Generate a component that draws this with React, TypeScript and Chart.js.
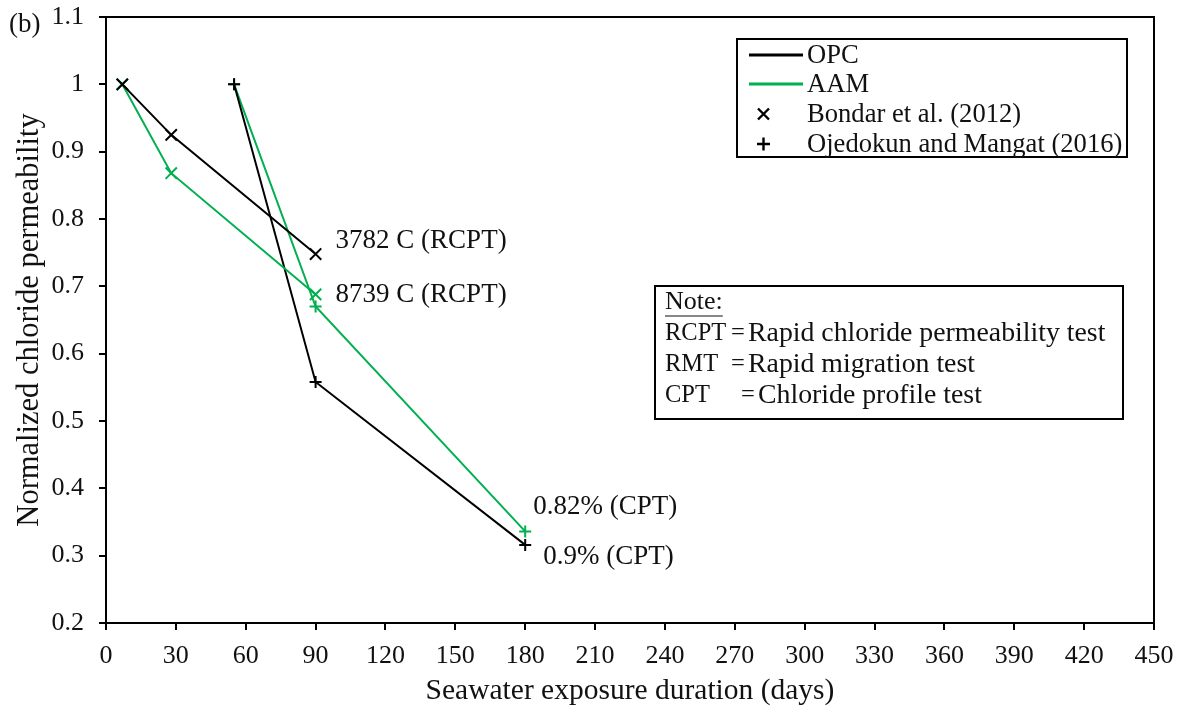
import React, { useEffect, useRef } from 'react';
import { Chart, registerables } from 'chart.js';

Chart.register(...registerables);

// ---------- data ----------
const opcBondarDays = [7, 28, 90];
const opcBondarValues = [1, 0.925, 0.748];
const aamBondarDays = [7, 28, 90];
const aamBondarValues = [1, 0.868, 0.688];
const opcOjedokunDays = [55, 90, 180];
const opcOjedokunValues = [1, 0.558, 0.316];
const aamOjedokunDays = [55, 90, 180];
const aamOjedokunValues = [1, 0.67, 0.336];

const xTickValues = [0, 30, 60, 90, 120, 150, 180, 210, 240, 270, 300, 330, 360, 390, 420, 450];
const yTickLabels = ['0.2', '0.3', '0.4', '0.5', '0.6', '0.7', '0.8', '0.9', '1', '1.1'];

const xAxisTitle = 'Seawater exposure duration (days)';
const yAxisTitle = 'Normalized chloride permeability';
const panelLabel = '(b)';

const legendLineLabels = ['OPC', 'AAM'];
const legendMarkerLabels = ['Bondar et al. (2012)', 'Ojedokun and Mangat (2016)'];

const noteTitle = 'Note:';
const noteAbbreviations = ['RCPT', 'RMT', 'CPT'];
const noteMeanings = ['Rapid chloride permeability test', 'Rapid migration test', 'Chloride profile test'];

const annotationTexts = ['3782 C (RCPT)', '8739 C (RCPT)', '0.82% (CPT)', '0.9% (CPT)'];
const annotationDays = [90, 90, 180, 180];
const annotationValues = [0.748, 0.688, 0.336, 0.316];

// ---------- styles ----------
const BLACK = '#000000';
const GREEN = '#00B050';
const TEXT = '#111111';
const FONT = "'Liberation Serif', 'Times New Roman', serif";
const annotationOffsets = [
  [20, -13],
  [20, 0],
  [8, -25],
  [18, 12],
];

const toPoints = (xs: number[], ys: number[]) => xs.map((x, i) => ({ x, y: ys[i] }));

const overlayPlugin = {
  id: 'overlay',
  afterDraw(chart: any) {
    const { ctx, chartArea } = chart;
    const xs = chart.scales.x;
    const ys = chart.scales.y;
    ctx.save();

    // frame top & right
    ctx.strokeStyle = BLACK;
    ctx.lineWidth = 2;
    ctx.beginPath();
    ctx.moveTo(chartArea.left, chartArea.top);
    ctx.lineTo(chartArea.right, chartArea.top);
    ctx.lineTo(chartArea.right, chartArea.bottom);
    ctx.stroke();

    ctx.fillStyle = TEXT;
    ctx.textBaseline = 'middle';
    ctx.textAlign = 'left';

    // panel label
    ctx.font = `27px ${FONT}`;
    ctx.fillText(panelLabel, 9, 25);

    // annotations
    annotationTexts.forEach((t, i) => {
      const px = xs.getPixelForValue(annotationDays[i]) + annotationOffsets[i][0];
      const py = ys.getPixelForValue(annotationValues[i]) + annotationOffsets[i][1];
      ctx.fillText(t, px, py);
    });

    // legend box
    ctx.fillStyle = '#fff';
    ctx.fillRect(737, 39, 390, 118);
    ctx.strokeStyle = BLACK;
    ctx.lineWidth = 2;
    ctx.strokeRect(737, 39, 390, 118);
    ctx.fillStyle = TEXT;
    ctx.font = `26.6px ${FONT}`;
    const rows = [55, 84, 114, 144];
    const colors = [BLACK, GREEN];
    legendLineLabels.forEach((l, i) => {
      ctx.strokeStyle = colors[i];
      ctx.lineWidth = 3;
      ctx.beginPath();
      ctx.moveTo(749, rows[i]);
      ctx.lineTo(803, rows[i]);
      ctx.stroke();
      ctx.fillText(l, 807, rows[i] + 1);
    });
    ctx.strokeStyle = BLACK;
    ctx.lineWidth = 2.4;
    // x marker
    ctx.beginPath();
    ctx.moveTo(758, rows[2] - 5.5);
    ctx.lineTo(769, rows[2] + 5.5);
    ctx.moveTo(769, rows[2] - 5.5);
    ctx.lineTo(758, rows[2] + 5.5);
    ctx.stroke();
    // + marker
    ctx.beginPath();
    ctx.moveTo(757, rows[3]);
    ctx.lineTo(770, rows[3]);
    ctx.moveTo(763.5, rows[3] - 6.5);
    ctx.lineTo(763.5, rows[3] + 6.5);
    ctx.stroke();
    legendMarkerLabels.forEach((l, i) => {
      ctx.fillText(l, 807, rows[i + 2] + 1);
    });

    // note box
    ctx.fillStyle = '#fff';
    ctx.fillRect(655, 286, 468, 133);
    ctx.strokeStyle = BLACK;
    ctx.lineWidth = 2;
    ctx.strokeRect(655, 286, 468, 133);
    ctx.fillStyle = TEXT;
    ctx.font = `26px ${FONT}`;
    ctx.fillText(noteTitle, 665, 302);
    const nw = ctx.measureText(noteTitle).width;
    ctx.lineWidth = 1.2;
    ctx.strokeStyle = TEXT;
    ctx.beginPath();
    ctx.moveTo(665, 316);
    ctx.lineTo(665 + nw, 316);
    ctx.stroke();
    const noteRows = [334, 365, 396];
    const eqX = [731, 731, 741];
    const textX = [748, 748, 758];
    noteAbbreviations.forEach((a, i) => {
      ctx.font = `24.5px ${FONT}`;
      ctx.fillText(a, 665, noteRows[i]);
      ctx.fillText('=', eqX[i], noteRows[i]);
      ctx.font = `27.8px ${FONT}`;
      ctx.fillText(noteMeanings[i], textX[i], noteRows[i]);
    });

    ctx.restore();
  },
};

export default function App() {
  const ref = useRef<HTMLCanvasElement | null>(null);
  useEffect(() => {
    document.body.style.margin = '0';
    document.body.style.background = '#fff';
    const canvas = ref.current;
    if (!canvas) return;
    const mk = (data: any, color: string, style: string, radius: number) => ({
      data,
      showLine: true,
      borderColor: color,
      backgroundColor: color,
      borderWidth: 2,
      pointStyle: style,
      pointRadius: radius,
      pointBorderWidth: 2,
      pointBorderColor: color,
      pointHoverRadius: radius,
      fill: false,
      tension: 0,
    });
    const chart = new Chart(canvas, {
      type: 'scatter',
      data: {
        datasets: [
          mk(toPoints(opcBondarDays, opcBondarValues), BLACK, 'crossRot', 8),
          mk(toPoints(aamBondarDays, aamBondarValues), GREEN, 'crossRot', 8),
          mk(toPoints(opcOjedokunDays, opcOjedokunValues), BLACK, 'cross', 6),
          mk(toPoints(aamOjedokunDays, aamOjedokunValues), GREEN, 'cross', 6),
        ] as any,
      },
      options: {
        responsive: false,
        animation: false,
        layout: { padding: { top: 17, right: 32, left: 0, bottom: 0 } },
        plugins: { legend: { display: false }, tooltip: { enabled: false } },
        scales: {
          x: {
            type: 'linear',
            min: 0,
            max: 450,
            afterBuildTicks: (s: any) => {
              s.ticks = xTickValues.map((v) => ({ value: v }));
            },
            afterFit: (s: any) => {
              s.height = 93;
              s.paddingLeft = 0;
              s.paddingRight = 0;
            },
            ticks: {
              color: TEXT,
              font: { family: FONT, size: 26 },
              padding: 11,
              maxRotation: 0,
              autoSkip: false,
            },
            grid: { display: true, drawOnChartArea: false, drawTicks: true, tickLength: 7, color: BLACK, lineWidth: 2 },
            border: { display: true, color: BLACK, width: 2 },
            title: {
              display: true,
              text: xAxisTitle,
              color: TEXT,
              font: { family: FONT, size: 29.5 },
              padding: { top: 0, bottom: 7 },
            },
          },
          y: {
            type: 'linear',
            min: 0.2,
            max: 1.1,
            afterBuildTicks: (s: any) => {
              s.ticks = yTickLabels.map((v) => ({ value: parseFloat(v) }));
            },
            afterFit: (s: any) => {
              s.width = 106;
              s.paddingTop = 0;
              s.paddingBottom = 0;
            },
            ticks: {
              color: TEXT,
              font: { family: FONT, size: 26 },
              padding: 15,
              autoSkip: false,
              callback: (v: any) => {
                const i = yTickLabels.findIndex((t) => Math.abs(parseFloat(t) - v) < 1e-6);
                return i >= 0 ? yTickLabels[i] : '';
              },
            },
            grid: { display: true, drawOnChartArea: false, drawTicks: true, tickLength: 7, color: BLACK, lineWidth: 2 },
            border: { display: true, color: BLACK, width: 2 },
            title: {
              display: true,
              text: yAxisTitle,
              color: TEXT,
              font: { family: FONT, size: 30.5 },
              padding: { top: 12, bottom: 0 },
            },
          },
        },
      },
      plugins: [overlayPlugin],
    });
    return () => chart.destroy();
  }, []);
  return (
    <div style={{ width: 1186, height: 716, background: '#fff' }}>
      <canvas ref={ref} width={1186} height={716} style={{ display: 'block', width: 1186, height: 716 }} />
    </div>
  );
}
